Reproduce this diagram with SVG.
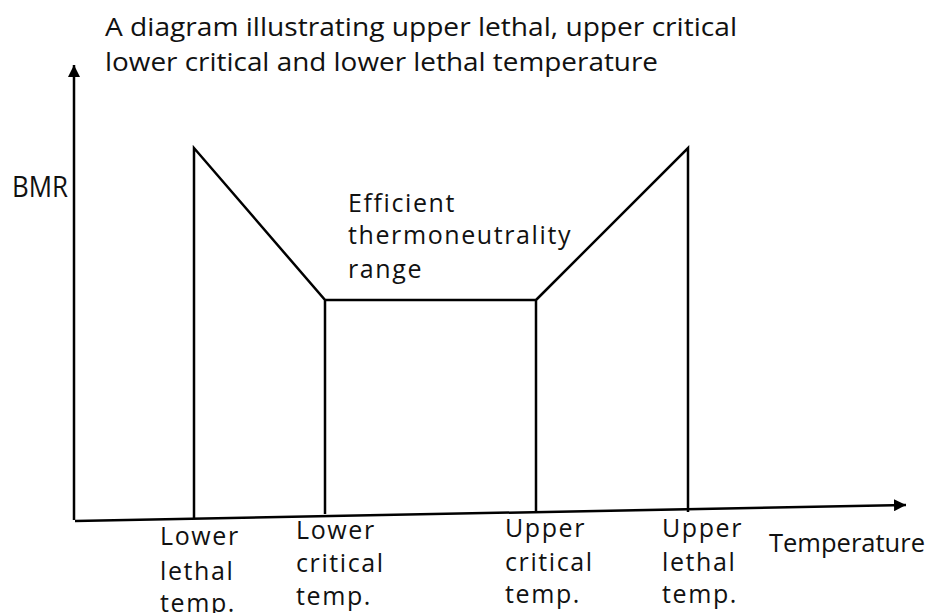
<svg xmlns="http://www.w3.org/2000/svg" width="934" height="613" viewBox="0 0 934 613">
<style>
text{font-family:"Open Sans","Liberation Sans",sans-serif;fill:#111;}
.t{font-size:25px;}
.l{font-size:25px;letter-spacing:1.6px;}
.p{font-size:25px;}
.b{font-size:29px;}
.ln{fill:none;stroke:#000;stroke-width:2.5;stroke-linejoin:miter;}
</style>
<defs>
<marker id="ah" markerWidth="12" markerHeight="12" refX="12" refY="6" orient="auto" markerUnits="userSpaceOnUse">
<path d="M0,0 L12,6 L0,12 Z" fill="#000"/>
</marker>
</defs>
<rect width="934" height="613" fill="#fff"/>
<g id="title">
<text class="t" x="105" y="36" textLength="632" lengthAdjust="spacingAndGlyphs">A diagram illustrating upper lethal, upper critical</text>
<text class="t" x="105" y="71" textLength="553" lengthAdjust="spacingAndGlyphs">lower critical and lower lethal temperature</text>
</g>
<g id="axes">
<line class="ln" x1="74" y1="520" x2="74" y2="65" marker-end="url(#ah)"/>
<line class="ln" x1="75" y1="521" x2="906" y2="505" marker-end="url(#ah)"/>
</g>
<g id="curve">
<path class="ln" d="M194,518 L194,148 L325,300 L325,514 M325,300 L536,300 L536,511 M536,300 L688,148 L688,512"/>
</g>
<g id="labels">
<text class="b" x="12" y="197" textLength="56" lengthAdjust="spacingAndGlyphs">BMR</text>
<text class="l" x="348" y="212">Efficient</text>
<text class="l" x="348" y="244">thermoneutrality</text>
<text class="l" x="348" y="278">range</text>
<text class="l" x="160" y="545">Lower</text>
<text class="l" x="160" y="580">lethal</text>
<text class="l" x="160" y="612">temp.</text>
<text class="l" x="296" y="539">Lower</text>
<text class="l" x="296" y="572">critical</text>
<text class="l" x="296" y="605">temp.</text>
<text class="l" x="505" y="537">Upper</text>
<text class="l" x="505" y="571">critical</text>
<text class="l" x="505" y="603">temp.</text>
<text class="l" x="662" y="537">Upper</text>
<text class="l" x="662" y="571">lethal</text>
<text class="l" x="662" y="603">temp.</text>
<text class="p" x="769" y="552" textLength="156" lengthAdjust="spacingAndGlyphs">Temperature</text>
</g>
</svg>
